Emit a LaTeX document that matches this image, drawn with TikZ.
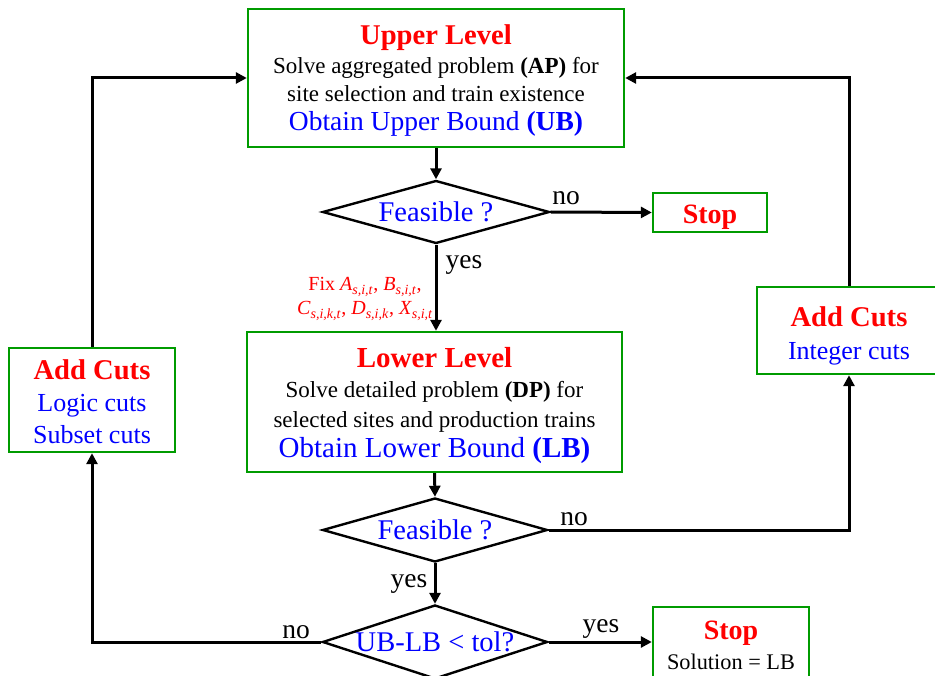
\documentclass[tikz,border=0pt]{standalone}
\usepackage{fontspec}
\setmainfont{Liberation Serif}
\usetikzlibrary{arrows.meta,shapes.geometric}
\definecolor{boxgreen}{RGB}{0,155,0}
\definecolor{txtred}{RGB}{255,0,0}
\definecolor{txtblue}{RGB}{0,0,255}
\newcommand{\fs}[2]{\fontsize{#1}{#2}\selectfont}
\begin{document}
\begin{tikzpicture}[x=1pt,y=-1pt,
  box/.style={draw=boxgreen,line width=2.4pt,rectangle,inner sep=0pt},
  txt/.style={inner sep=0pt,align=center},
  dec/.style={draw=black,line width=2.4pt,diamond,inner sep=0pt,
    text=txtblue,font=\fs{28.5}{30}},
  flow/.style={line width=3pt,-{Triangle[length=11pt,width=11pt]}},
  lbl/.style={inner sep=0pt,anchor=base,font=\fs{27.5}{30}},
  title/.style={font=\fs{#1}{#1}\bfseries,text=txtred}
]
\useasboundingbox (0,0) rectangle (935,676);

% ---- upper level ----
\node[box,minimum width=376pt,minimum height=138pt] (up) at (436,78) {};
\node[txt,font=\fs{23}{28.7}] (upt) at (436,80.4)
  {{\fs{28.6}{28.7}\bfseries\color{txtred}Upper Level}\\
   Solve aggregated problem \textbf{(AP)} for\\
   site selection and train existence\\
   {\fs{27.5}{28.7}\color{txtblue}Obtain Upper Bound \textbf{(UB)}}};

% ---- first feasibility test ----
\node[dec,minimum width=227pt,minimum height=63pt] (d1) at (436,212)
  {\makebox[0pt]{Feasible ?}};
\node[box,minimum width=114pt,minimum height=39pt] (stop1) at (710,212.5) {};
\node[txt,font=\fs{28}{30}\bfseries,text=txtred] (stop1t) at (710,216.8) {Stop};

% ---- lower level ----
\node[box,minimum width=375pt,minimum height=140pt] (low) at (434.5,402) {};
\node[txt,font=\fs{23}{30}] (lowt) at (434.5,405.5)
  {{\fs{29}{30}\bfseries\color{txtred}Lower Level}\\
   Solve detailed problem \textbf{(DP)} for\\
   selected sites and production trains\\
   {\fs{29}{30}\color{txtblue}Obtain Lower Bound \textbf{(LB)}}};

% ---- second feasibility test and convergence test ----
\node[dec,minimum width=225pt,minimum height=64pt] (d2) at (435,530)
  {\makebox[0pt]{Feasible ?}};
\node[dec,minimum width=225pt,minimum height=74pt] (d3) at (435,642)
  {\makebox[0pt]{UB-LB < tol?}};

\node[box,minimum width=156pt,minimum height=76pt] (stop2) at (731,645) {};
\node[txt,font=\fs{22.3}{30}] (stop2t) at (731,645)
  {{\fs{28}{30}\bfseries\color{txtred}Stop}\\ Solution = LB};

% ---- cut boxes ----
\node[box,minimum width=166pt,minimum height=104pt] (lc) at (92,400) {};
\node[txt,font=\fs{26}{32}] (lct) at (92,401.5)
  {{\fs{28.6}{32}\bfseries\color{txtred}Add Cuts}\\
   \color{txtblue}Logic cuts\\ \color{txtblue}Subset cuts};

\node[box,minimum width=184pt,minimum height=87pt] (rc) at (849,330.5) {};
\node[txt,font=\fs{26}{33}] (rct) at (849,335.5)
  {{\fs{28.6}{33}\bfseries\color{txtred}Add Cuts}\\
   \color{txtblue}Integer cuts};

% ---- fixed variables passed down ----
\node[txt,font=\fs{20}{24},text=txtred] (fix) at (365,299)
  {Fix \textit{A}\textsubscript{\textit{s,i,t}}, \textit{B}\textsubscript{\textit{s,i,t}},\\
   \textit{C}\textsubscript{\textit{s,i,k,t}}, \textit{D}\textsubscript{\textit{s,i,k}}, \textit{X}\textsubscript{\textit{s,i,t}}};

% ---- connectors ----
\draw[flow] (up.south) -- (d1.north);
\draw[flow] (d1.east) -- (stop1.west);
\draw[flow] (d1.south) -- (d1.south |- low.north);
\draw[flow] (low.south) -- (d2.north);
\draw[flow] (d2.east) -| (rc.south);
\draw[flow] (d2.south) -- (d3.north);
\draw[flow] (d3.west) -| (lc.south);
\draw[flow] (d3.east) -- (d3.east -| stop2.west);
\draw[flow] (lc.north) |- (up.west);
\draw[flow] (rc.north) |- (up.east);

% ---- branch labels ----
\node[lbl] (no1) at (566,205) {no};
\node[lbl] (yes1) at (464,269) {yes};
\node[lbl] (no2) at (574,525) {no};
\node[lbl] (yes2) at (409,587) {yes};
\node[lbl] (no3) at (296,638) {no};
\node[lbl] (yes3) at (601,632) {yes};
\end{tikzpicture}
\end{document}
